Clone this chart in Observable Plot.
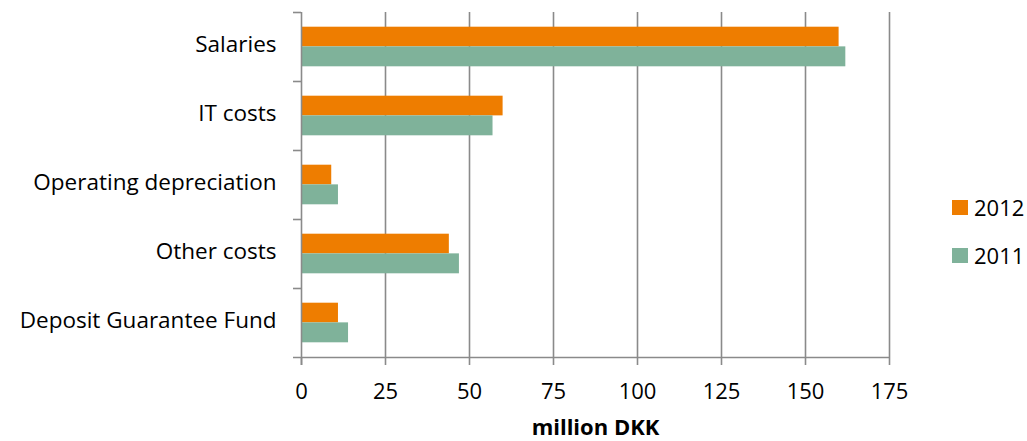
<!DOCTYPE html>
<html>
<head>
<meta charset="utf-8">
<script src="https://cdn.jsdelivr.net/npm/d3@7"></script>
<script src="https://cdn.jsdelivr.net/npm/@observablehq/plot@0.6"></script>
<style>
  html, body { margin: 0; padding: 0; background: #fff; overflow: hidden; }
  #wrap { position: relative; width: 1027px; height: 441px; overflow: hidden; font-family: "Open Sans", sans-serif; }
  .legend { position: absolute; left: 952px; font-size: 22px; color: #000; display: flex; align-items: center; line-height: 24px; }
  .legend span.sw { display: inline-block; width: 16px; height: 15px; margin-right: 6px; }
</style>
</head>
<body>
<div id="wrap"></div>
<script>
const categories = ["Salaries", "IT costs", "Operating depreciation", "Other costs", "Deposit Guarantee Fund"];
const series = ["2012", "2011"];
const values2012 = [160, 60, 9, 44, 11];
const values2011 = [162, 57, 11, 47, 14];
const xTicks = [0, 25, 50, 75, 100, 125, 150, 175];
const xLabel = "million DKK";
const colors = {"2012": "#EE7D00", "2011": "#7FB29A"};

const width = 1027, height = 441;
const mt = 12, mb = 84, ml = 301, mr = 138;
const band = (height - mt - mb) / categories.length;
const barH = band * 0.285;
const pad = band * 0.213;

const rows2012 = categories.map((c, i) => ({category: c, value: values2012[i]}));
const rows2011 = categories.map((c, i) => ({category: c, value: values2011[i]}));
const gridColor = "#8a8a8a";

const chart = Plot.plot({
  width, height,
  marginTop: mt, marginBottom: mb, marginLeft: ml, marginRight: mr,
  style: {fontFamily: "'Open Sans', sans-serif", color: "#000", background: "#fff", overflow: "hidden"},
  x: {domain: [0, 175]},
  y: {domain: categories, padding: 0},
  marks: [
    Plot.ruleX(xTicks.slice(1), {stroke: gridColor, strokeWidth: 1.6}),
    Plot.barX(rows2012, {y: "category", x: "value", fill: colors["2012"], insetTop: pad, insetBottom: band - pad - barH}),
    Plot.barX(rows2011, {y: "category", x: "value", fill: colors["2011"], insetTop: pad + barH, insetBottom: pad}),
    Plot.ruleX([0], {stroke: gridColor, strokeWidth: 1.6, insetBottom: -8}),
    Plot.ruleY([categories[categories.length - 1]], {stroke: gridColor, strokeWidth: 1.6, dy: band / 2, insetLeft: -8}),
    Plot.axisY({tickSize: 8, dy: -band / 2, text: null, stroke: gridColor, strokeWidth: 1.6, label: null}),
    Plot.axisY({tickSize: 0, tickPadding: 25, fontSize: 22.5, dy: -2, label: null}),
    Plot.axisX({ticks: xTicks, tickSize: 8, tickPadding: 18, fontSize: 22, stroke: gridColor, strokeWidth: 1.6, label: null}),
    Plot.text([xLabel], {frameAnchor: "bottom", dy: 77, fontSize: 22, fontWeight: "bold", fill: "#000"})
  ]
});
const wrap = document.getElementById("wrap");
wrap.appendChild(chart);
series.forEach((s, i) => {
  const d = document.createElement("div");
  d.className = "legend";
  d.style.top = (195 + i * 48) + "px";
  d.innerHTML = `<span class="sw" style="background:${colors[s]}"></span>${s}`;
  wrap.appendChild(d);
});
</script>
</body>
</html>
